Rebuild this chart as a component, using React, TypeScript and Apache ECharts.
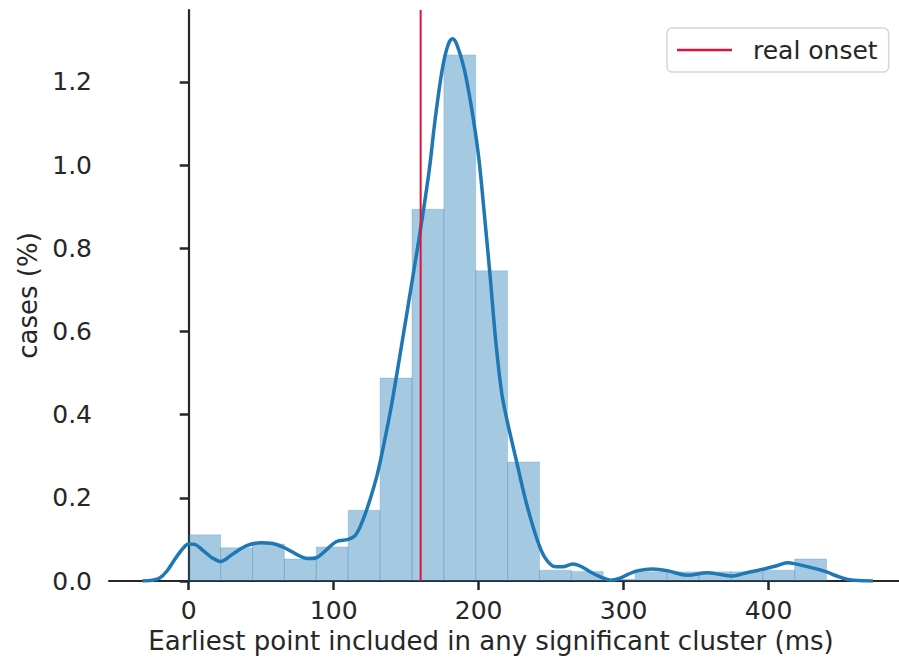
import React, { useEffect, useRef } from "react";
import * as echarts from "echarts";

// Histogram bins (ms) and their heights (cases %)
const binStarts = [0, 22, 44, 66, 88, 110, 132, 154, 176, 198, 220, 242, 264, 286, 308, 330, 352, 374, 396, 418];
const binWidth = 22;
const binHeights = [0.111, 0.08, 0.089, 0.053, 0.082, 0.17, 0.488, 0.894, 1.265, 0.746, 0.286, 0.026, 0.023, 0.004, 0.022, 0.022, 0.022, 0.022, 0.026, 0.053];

// KDE curve
const kdeX = [-32, -25, -20, -15, -10, -5, 0, 4, 10, 16, 22, 30, 40, 50, 58, 66, 75, 82, 88, 95, 102, 110, 115, 120, 125, 130, 135, 140, 147, 155, 161, 166, 170, 175, 179, 182, 185, 190, 195, 200, 204, 208, 212, 216, 220, 226, 232, 238, 243, 247, 252, 258, 265, 270, 277, 284, 291, 297, 303, 310, 320, 330, 344, 358, 366, 374, 385, 397, 405, 413, 420, 431, 440, 447, 454, 462, 472];
const kdeY = [0, 0.002, 0.007, 0.024, 0.05, 0.074, 0.089, 0.088, 0.073, 0.056, 0.047, 0.064, 0.085, 0.092, 0.09, 0.08, 0.063, 0.054, 0.056, 0.075, 0.095, 0.1, 0.11, 0.145, 0.195, 0.255, 0.335, 0.425, 0.57, 0.74, 0.87, 0.99, 1.11, 1.232, 1.29, 1.304, 1.29, 1.232, 1.14, 1.02, 0.88, 0.73, 0.57, 0.45, 0.38, 0.29, 0.2, 0.125, 0.075, 0.05, 0.035, 0.034, 0.041, 0.036, 0.022, 0.01, 0.002, 0.006, 0.016, 0.025, 0.029, 0.025, 0.014, 0.02, 0.016, 0.012, 0.02, 0.029, 0.036, 0.044, 0.04, 0.031, 0.022, 0.012, 0.004, 0.001, 0];

const realOnset = 160;
const xTicks = [0, 100, 200, 300, 400];
const yTicks = [0, 0.2, 0.4, 0.6, 0.8, 1.0, 1.2];

const FONT = "DejaVu Sans";
const TXT = "#262626";

export default function App() {
  const ref = useRef<HTMLDivElement>(null);
  useEffect(() => {
    if (!ref.current) return;
    const chart = echarts.init(ref.current, undefined, { renderer: "svg" });
    const yMax = 1.373;
    chart.setOption({
      animation: false,
      grid: { left: 109, right: 0, top: 10, bottom: 82, containLabel: false },
      legend: {
        left: 667,
        top: 28,
        data: [{ name: "real onset", icon: "rect" }],
        itemWidth: 55,
        itemHeight: 2.5,
        padding: [8, 11, 8, 10],
        backgroundColor: "#ffffff",
        borderColor: "#d6d6d6",
        borderWidth: 1.5,
        borderRadius: 5,
        textStyle: { fontFamily: FONT, fontSize: 25, color: TXT, lineHeight: 28, padding: [0, 0, 0, 16] },
      },
      xAxis: {
        type: "value",
        min: -55,
        max: 490,
        name: "Earliest point included in any significant cluster (ms)",
        nameLocation: "middle",
        nameGap: 47,
        nameTextStyle: { fontFamily: FONT, fontSize: 26, color: TXT, padding: [0, 26, 0, 0] },
        splitLine: { show: false },
        axisLine: { lineStyle: { color: TXT, width: 2.2 } },
        axisTick: { show: true, length: 9, lineStyle: { color: TXT, width: 2.5 }, customValues: xTicks },
        axisLabel: { fontFamily: FONT, fontSize: 25, color: TXT, margin: 17, customValues: xTicks },
      },
      yAxis: {
        type: "value",
        min: 0,
        max: yMax,
        name: "cases (%)",
        nameLocation: "middle",
        nameGap: 52,
        nameRotate: 90,
        nameTextStyle: { fontFamily: FONT, fontSize: 26, color: TXT },
        splitLine: { show: false },
        axisLine: { show: true, lineStyle: { color: TXT, width: 2.2 } },
        axisTick: { show: true, length: 9, lineStyle: { color: TXT, width: 2.5 }, customValues: yTicks },
        axisLabel: {
          fontFamily: FONT,
          fontSize: 25,
          color: TXT,
          margin: 17,
          customValues: yTicks,
          formatter: (v: number) => v.toFixed(1),
        },
      },
      series: [
        {
          type: "custom",
          name: "hist",
          z: 1,
          encode: { x: [0, 1], y: 2 },
          data: binStarts.map((s, i) => [s, s + binWidth, binHeights[i]]),
          renderItem: (_params: any, api: any) => {
            const p0 = api.coord([api.value(0), api.value(2)]);
            const p1 = api.coord([api.value(1), 0]);
            return {
              type: "rect",
              shape: { x: p0[0], y: p0[1], width: p1[0] - p0[0], height: p1[1] - p0[1] },
              style: { fill: "rgba(31,119,180,0.4)", stroke: "rgba(31,119,180,0.2)", lineWidth: 1 },
            };
          },
        },
        {
          type: "line",
          name: "kde",
          z: 3,
          smooth: 0.35,
          symbol: "none",
          data: kdeX.map((x, i) => [x, kdeY[i]]),
          lineStyle: { color: "#1f77b4", width: 3.5 },
          itemStyle: { color: "#1f77b4" },
        },
        {
          type: "line",
          name: "real onset",
          z: 4,
          symbol: "none",
          data: [
            [realOnset, 0],
            [realOnset, yMax],
          ],
          lineStyle: { color: "#dc143c", width: 2 },
          itemStyle: { color: "#dc143c" },
        },
      ],
    });
    return () => chart.dispose();
  }, []);
  return <div ref={ref} style={{ position: "absolute", left: 0, top: 0, width: 899, height: 663 }} />;
}
